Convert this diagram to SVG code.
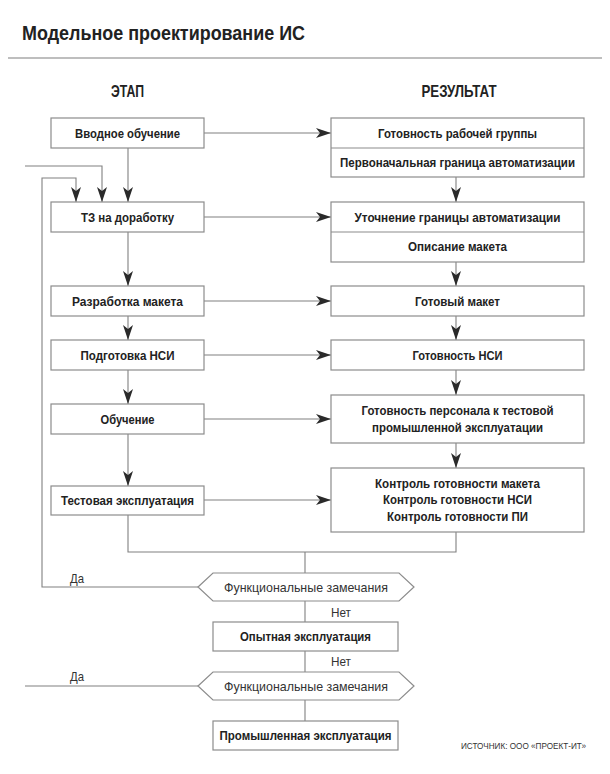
<svg xmlns="http://www.w3.org/2000/svg" width="610" height="774" viewBox="0 0 610 774">
<style>
.box{fill:#fff;stroke:#8c8c8c;stroke-width:1.2}
.div{stroke:#8c8c8c;stroke-width:1.2}
.ln{fill:none;stroke:#808080;stroke-width:1.1}
.arr{marker-end:url(#ah)}
.t{font-family:"Liberation Sans",Arial,sans-serif;font-weight:bold;font-size:13.5px;fill:#222;text-anchor:middle}
.r{font-weight:normal;fill:#333;font-size:13px}
.l{text-anchor:start}
</style>
<defs>
<marker id="ah" viewBox="0 0 15 10" refX="15" refY="5" markerWidth="15" markerHeight="10" markerUnits="userSpaceOnUse" orient="auto">
<path d="M0,0 L15,5 L0,10 L4,5 Z" fill="#2a2a2a"/>
</marker>
</defs>
<rect width="610" height="774" fill="#fff"/>

<g id="header">
<text class="t l" x="22" y="40" style="font-size:20px" textLength="283" lengthAdjust="spacingAndGlyphs">Модельное проектирование ИС</text>
<line x1="8" y1="58" x2="602" y2="58" stroke="#a8a8a8" stroke-width="1.6"/>
<text class="t" x="127.5" y="97" style="font-size:16.5px" textLength="33" lengthAdjust="spacingAndGlyphs">ЭТАП</text>
<text class="t" x="459" y="97" style="font-size:16.5px" textLength="75" lengthAdjust="spacingAndGlyphs">РЕЗУЛЬТАТ</text>
</g>

<g id="connectors">
<line class="ln arr" x1="128" y1="148" x2="128" y2="202"/>
<line class="ln arr" x1="128" y1="232" x2="128" y2="286"/>
<line class="ln arr" x1="128" y1="316" x2="128" y2="340"/>
<line class="ln arr" x1="128" y1="370" x2="128" y2="404"/>
<line class="ln arr" x1="128" y1="434" x2="128" y2="486"/>
<line class="ln arr" x1="456" y1="177" x2="456" y2="202"/>
<line class="ln arr" x1="456" y1="262" x2="456" y2="286"/>
<line class="ln arr" x1="456" y1="316" x2="456" y2="340"/>
<line class="ln arr" x1="456" y1="370" x2="456" y2="395"/>
<line class="ln arr" x1="456" y1="443" x2="456" y2="468"/>
<line class="ln arr" x1="204" y1="133" x2="331" y2="133"/>
<line class="ln arr" x1="204" y1="217" x2="331" y2="217"/>
<line class="ln arr" x1="204" y1="301" x2="331" y2="301"/>
<line class="ln arr" x1="204" y1="355" x2="331" y2="355"/>
<line class="ln arr" x1="204" y1="419" x2="331" y2="419"/>
<line class="ln arr" x1="204" y1="500" x2="331" y2="500"/>
<polyline class="ln arr" points="25,166 102,166 102,202"/>
<polyline class="ln arr" points="198,587 42,587 42,178 76,178 76,202"/>
<polyline class="ln" points="128,515 128,552 456,552 456,532"/>
<line class="ln" x1="305" y1="552" x2="305" y2="573"/>
<line class="ln" x1="305" y1="601" x2="305" y2="622"/>
<line class="ln" x1="305" y1="651" x2="305" y2="672"/>
<line class="ln" x1="305" y1="700" x2="305" y2="721"/>
<line class="ln" x1="25" y1="686" x2="198" y2="686"/>
<text class="t r" x="77" y="583" textLength="14" lengthAdjust="spacingAndGlyphs">Да</text>
<text class="t r" x="77" y="681" textLength="14" lengthAdjust="spacingAndGlyphs">Да</text>
<text class="t r" x="341" y="617" textLength="20" lengthAdjust="spacingAndGlyphs">Нет</text>
<text class="t r" x="341" y="666" textLength="20" lengthAdjust="spacingAndGlyphs">Нет</text>
</g>

<g id="s1"><rect class="box" x="51" y="118" width="153" height="30"/>
<text class="t" x="127.5" y="137.5" textLength="105" lengthAdjust="spacingAndGlyphs">Вводное обучение</text></g>
<g id="s2"><rect class="box" x="51" y="202" width="153" height="30"/>
<text class="t" x="127.5" y="221.5" textLength="93" lengthAdjust="spacingAndGlyphs">ТЗ на доработку</text></g>
<g id="s3"><rect class="box" x="51" y="286" width="153" height="30"/>
<text class="t" x="127.5" y="305.5" textLength="111" lengthAdjust="spacingAndGlyphs">Разработка макета</text></g>
<g id="s4"><rect class="box" x="51" y="340" width="153" height="30"/>
<text class="t" x="127.5" y="359.5" textLength="94" lengthAdjust="spacingAndGlyphs">Подготовка НСИ</text></g>
<g id="s5"><rect class="box" x="51" y="404" width="153" height="30"/>
<text class="t" x="127.5" y="423.5" textLength="54" lengthAdjust="spacingAndGlyphs">Обучение</text></g>
<g id="s6"><rect class="box" x="51" y="486" width="153" height="29"/>
<text class="t" x="127.5" y="505" textLength="133" lengthAdjust="spacingAndGlyphs">Тестовая эксплуатация</text></g>

<g id="r1"><rect class="box" x="331" y="118" width="253" height="59"/>
<line class="div" x1="331" y1="148" x2="584" y2="148"/>
<text class="t" x="457.5" y="137.5" textLength="159" lengthAdjust="spacingAndGlyphs">Готовность рабочей группы</text>
<text class="t" x="457.5" y="166.5" style="font-size:12.5px" textLength="235" lengthAdjust="spacingAndGlyphs">Первоначальная граница автоматизации</text></g>
<g id="r2"><rect class="box" x="331" y="202" width="253" height="60"/>
<line class="div" x1="331" y1="232" x2="584" y2="232"/>
<text class="t" x="457.5" y="221.5" textLength="206" lengthAdjust="spacingAndGlyphs">Уточнение границы автоматизации</text>
<text class="t" x="457.5" y="250.5" textLength="99" lengthAdjust="spacingAndGlyphs">Описание макета</text></g>
<g id="r3"><rect class="box" x="331" y="286" width="253" height="30"/>
<text class="t" x="457.5" y="305.5" textLength="85" lengthAdjust="spacingAndGlyphs">Готовый макет</text></g>
<g id="r4"><rect class="box" x="331" y="340" width="253" height="30"/>
<text class="t" x="457.5" y="359.5" textLength="90" lengthAdjust="spacingAndGlyphs">Готовность НСИ</text></g>
<g id="r5"><rect class="box" x="331" y="395" width="253" height="48"/>
<text class="t" x="457.5" y="414.5" textLength="192" lengthAdjust="spacingAndGlyphs">Готовность персонала к тестовой</text>
<text class="t" x="457.5" y="431.5" textLength="171" lengthAdjust="spacingAndGlyphs">промышленной эксплуатации</text></g>
<g id="r6"><rect class="box" x="331" y="468" width="253" height="64"/>
<text class="t" x="457.5" y="487.5" textLength="165" lengthAdjust="spacingAndGlyphs">Контроль готовности макета</text>
<text class="t" x="457.5" y="504" textLength="149" lengthAdjust="spacingAndGlyphs">Контроль готовности НСИ</text>
<text class="t" x="457.5" y="520.5" textLength="141" lengthAdjust="spacingAndGlyphs">Контроль готовности ПИ</text></g>

<g id="d1"><polygon class="box" points="198,587 213,573 399,573 414,587 399,601 213,601"/>
<text class="t r" x="306" y="591.5" textLength="164" lengthAdjust="spacingAndGlyphs">Функциональные замечания</text></g>
<g id="p1"><rect class="box" x="213" y="622" width="185" height="29"/>
<text class="t" x="305.5" y="641" textLength="131" lengthAdjust="spacingAndGlyphs">Опытная эксплуатация</text></g>
<g id="d2"><polygon class="box" points="198,686 213,672 399,672 414,686 399,700 213,700"/>
<text class="t r" x="306" y="690.5" textLength="164" lengthAdjust="spacingAndGlyphs">Функциональные замечания</text></g>
<g id="p2"><rect class="box" x="213" y="721" width="185" height="29"/>
<text class="t" x="305.5" y="740" textLength="172" lengthAdjust="spacingAndGlyphs">Промышленная эксплуатация</text></g>

<g id="source"><text class="t r l" x="461" y="749" style="font-size:9px" textLength="125" lengthAdjust="spacingAndGlyphs">ИСТОЧНИК: ООО «ПРОЕКТ-ИТ»</text></g>
</svg>
